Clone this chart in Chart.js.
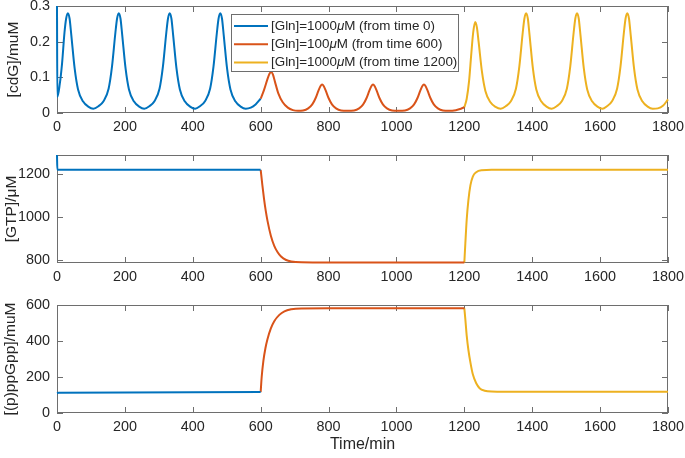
<!DOCTYPE html>
<html>
<head>
<meta charset="utf-8">
<script src="https://cdn.jsdelivr.net/npm/chart.js@4.4.1/dist/chart.umd.min.js"></script>
<style>
  html, body { margin: 0; padding: 0; background: #fff; }
  canvas { display: block; }
</style>
</head>
<body>
<canvas id="cdg" width="685" height="140"></canvas>
<canvas id="gtp" width="685" height="150"></canvas>
<canvas id="ppgpp" width="685" height="168"></canvas>
<script>
// time axis ticks (min)
const timeTicks = [0, 200, 400, 600, 800, 1000, 1200, 1400, 1600, 1800];

// [cdG] oscillations
const cdgBlueT = [0, 1, 8, 15, 22, 27, 32, 37, 42, 52, 62, 77, 92, 107, 122, 137, 152, 162, 172, 177, 182, 187, 192, 202, 212, 227, 242, 257, 272, 287, 302, 312, 322, 327, 332, 337, 342, 352, 362, 377, 392, 407, 421, 436, 451, 461, 471, 476, 481, 486, 491, 501, 511, 526, 541, 556, 571, 585, 600];
const cdgBlue = [0.3, 0.045, 0.08, 0.14, 0.225, 0.265, 0.28, 0.265, 0.22, 0.125, 0.066, 0.032, 0.018, 0.012, 0.019, 0.033, 0.068, 0.13, 0.225, 0.265, 0.28, 0.265, 0.22, 0.125, 0.066, 0.032, 0.018, 0.012, 0.019, 0.033, 0.068, 0.13, 0.225, 0.265, 0.28, 0.265, 0.22, 0.125, 0.066, 0.032, 0.018, 0.012, 0.019, 0.033, 0.068, 0.13, 0.225, 0.265, 0.28, 0.265, 0.22, 0.125, 0.066, 0.032, 0.018, 0.012, 0.015, 0.024, 0.04];
const cdgRedT = [600, 610, 620, 626, 631, 636, 642, 652, 665, 680, 695, 710, 725, 740, 752, 762, 770, 776, 781, 786, 792, 800, 810, 822, 837, 855, 875, 890, 902, 912, 920, 926, 931, 936, 942, 950, 960, 972, 987, 1005, 1025, 1040, 1052, 1062, 1070, 1076, 1081, 1086, 1092, 1100, 1110, 1122, 1137, 1155, 1175, 1190, 1200];
const cdgRed = [0.04, 0.065, 0.095, 0.11, 0.115, 0.108, 0.088, 0.055, 0.03, 0.015, 0.008, 0.006, 0.007, 0.013, 0.024, 0.042, 0.062, 0.075, 0.08, 0.075, 0.062, 0.042, 0.024, 0.013, 0.007, 0.006, 0.007, 0.013, 0.024, 0.042, 0.062, 0.075, 0.08, 0.075, 0.062, 0.042, 0.024, 0.013, 0.007, 0.006, 0.007, 0.013, 0.024, 0.042, 0.062, 0.075, 0.08, 0.075, 0.062, 0.042, 0.024, 0.013, 0.007, 0.006, 0.008, 0.012, 0.016];
const cdgYellowT = [1200, 1207, 1214, 1220, 1226, 1232, 1237, 1242, 1252, 1262, 1277, 1292, 1307, 1322, 1337, 1352, 1362, 1372, 1377, 1382, 1387, 1392, 1402, 1412, 1427, 1442, 1457, 1472, 1487, 1502, 1512, 1522, 1527, 1532, 1537, 1542, 1552, 1562, 1577, 1592, 1607, 1620, 1635, 1650, 1660, 1670, 1675, 1680, 1685, 1690, 1700, 1710, 1725, 1740, 1755, 1770, 1785, 1800];
const cdgYellow = [0.016, 0.04, 0.09, 0.16, 0.225, 0.255, 0.24, 0.2, 0.115, 0.062, 0.03, 0.017, 0.012, 0.019, 0.033, 0.068, 0.13, 0.225, 0.265, 0.28, 0.265, 0.22, 0.125, 0.066, 0.032, 0.018, 0.012, 0.019, 0.033, 0.068, 0.13, 0.225, 0.265, 0.28, 0.265, 0.22, 0.125, 0.066, 0.032, 0.018, 0.012, 0.019, 0.033, 0.068, 0.13, 0.225, 0.265, 0.28, 0.265, 0.22, 0.125, 0.066, 0.032, 0.018, 0.012, 0.013, 0.02, 0.038];
const cdgTicks = [0, 0.1, 0.2, 0.3];

// [GTP]
const gtpBlueT = [0, 1, 600];
const gtpBlue = [1290, 1222, 1221];
const gtpRedT = [600, 605, 610, 615, 620, 630, 640, 650, 660, 675, 690, 720, 800, 1200];
const gtpRed = [1221, 1150, 1085, 1030, 985, 915, 868, 838, 818, 802, 795, 791, 790, 790];
const gtpYellowT = [1200, 1203, 1207, 1212, 1218, 1225, 1235, 1250, 1280, 1800];
const gtpYellow = [790, 880, 990, 1080, 1150, 1190, 1210, 1219, 1221, 1221];
const gtpTicks = [800, 1000, 1200];

// [(p)ppGpp]
const ppBlueT = [0, 5, 600];
const ppBlue = [110, 113, 116];
const ppRedT = [600, 603, 608, 614, 620, 630, 640, 655, 670, 690, 720, 800, 1200];
const ppRed = [116, 200, 290, 360, 410, 470, 510, 545, 565, 576, 581, 582, 582];
const ppYellowT = [1200, 1203, 1207, 1212, 1218, 1225, 1235, 1245, 1260, 1280, 1320, 1800];
const ppYellow = [582, 520, 430, 350, 280, 215, 165, 138, 124, 119, 118, 118];
const ppTicks = [0, 200, 400, 600];

const legendLabels = [
  ['[Gln]=1000', 'μ', 'M (from time 0)'],
  ['[Gln]=100', 'μ', 'M (from time 600)'],
  ['[Gln]=1000', 'μ', 'M (from time 1200)'],
];

const COLORS = ['#0072BD', '#D95319', '#EDB120'];
const AXIS = '#6e6e6e';
const TEXT = '#262626';
const FONT = '"Liberation Sans", Arial, Helvetica, sans-serif';

const pts = (ts, vs) => ts.map((t, i) => ({ x: t, y: vs[i] }));

// MATLAB style box with inward ticks, drawn under the curves
const frame = {
  id: 'frame',
  beforeDatasetsDraw(chart) {
    const { ctx, chartArea: a, scales: { x, y } } = chart;
    const tl = 6;
    ctx.save();
    ctx.strokeStyle = AXIS;
    ctx.lineWidth = 1;
    ctx.beginPath();
    x.ticks.forEach((t) => {
      const px = Math.round(x.getPixelForValue(t.value)) + 0.5;
      ctx.moveTo(px, a.bottom); ctx.lineTo(px, a.bottom - tl);
      ctx.moveTo(px, a.top); ctx.lineTo(px, a.top + tl);
    });
    y.ticks.forEach((t) => {
      const py = Math.round(y.getPixelForValue(t.value)) + 0.5;
      ctx.moveTo(a.left, py); ctx.lineTo(a.left + tl, py);
      ctx.moveTo(a.right, py); ctx.lineTo(a.right - tl, py);
    });
    ctx.stroke();
    ctx.strokeRect(a.left + 0.5, a.top + 0.5, a.right - a.left - 1, a.bottom - a.top - 1);
    ctx.restore();
  },
};

const legendBox = {
  id: 'legendBox',
  afterDraw(chart) {
    const { ctx } = chart;
    const bx = 231.5, by = 14.5, bw = 227, bh = 57;
    ctx.save();
    ctx.fillStyle = '#fff';
    ctx.fillRect(bx, by, bw, bh);
    ctx.strokeStyle = AXIS;
    ctx.lineWidth = 1;
    ctx.strokeRect(bx, by, bw, bh);
    ctx.textBaseline = 'middle';
    legendLabels.forEach((parts, i) => {
      const yy = 26 + i * 18.3;
      ctx.strokeStyle = COLORS[i];
      ctx.lineWidth = 2;
      ctx.beginPath();
      ctx.moveTo(234, yy); ctx.lineTo(268, yy);
      ctx.stroke();
      ctx.fillStyle = TEXT;
      let xx = 271;
      parts.forEach((p, j) => {
        ctx.font = (j === 1 ? 'italic ' : '') + '13.4px ' + FONT;
        ctx.fillText(p, xx, yy);
        xx += ctx.measureText(p).width;
      });
    });
    ctx.restore();
  },
};

function makeChart(id, series, yMin, yMax, yTicks, yTitle, titlePad, topPad, xHeight, xTitle) {
  const plugins = [frame];
  if (id === 'cdg') plugins.push(legendBox);
  return new Chart(document.getElementById(id), {
    type: 'line',
    data: {
      datasets: series.map((s, i) => ({
        data: s,
        borderColor: COLORS[i],
        borderWidth: 2,
        pointRadius: 0,
        fill: false,
        clip: 2,
        cubicInterpolationMode: 'monotone',
      })),
    },
    options: {
      responsive: false,
      animation: false,
      events: [],
      layout: { padding: { left: 0, right: 17, top: topPad, bottom: 0 } },
      plugins: { legend: { display: false }, tooltip: { enabled: false } },
      scales: {
        x: {
          type: 'linear',
          min: 0,
          max: 1800,
          grid: { display: false, drawTicks: false },
          border: { display: false },
          afterBuildTicks: (s) => { s.ticks = timeTicks.map((v) => ({ value: v })); },
          afterFit: (s) => { s.height = xHeight; s.paddingLeft = 0; s.paddingRight = 0; },
          ticks: {
            color: TEXT, font: { family: FONT, size: 14.4 }, padding: 5,
            maxRotation: 0, autoSkip: false, callback: (v) => String(v),
          },
          title: {
            display: !!xTitle,
            text: xTitle || '',
            color: TEXT,
            font: { family: FONT, size: 16 },
            padding: { top: 4, bottom: 4 },
          },
        },
        y: {
          min: yMin,
          max: yMax,
          grid: { display: false, drawTicks: false },
          border: { display: false },
          afterBuildTicks: (s) => { s.ticks = yTicks.map((v) => ({ value: v })); },
          afterFit: (s) => { s.width = 57; s.paddingTop = 0; s.paddingBottom = 0; },
          ticks: { color: TEXT, font: { family: FONT, size: 14.4 }, padding: 7, callback: (v) => String(v) },
          title: {
            display: true,
            text: yTitle,
            color: TEXT,
            font: { family: FONT, size: 15.5 },
            padding: { top: titlePad, bottom: titlePad },
          },
        },
      },
    },
    plugins,
  });
}

makeChart('cdg',
  [pts(cdgBlueT, cdgBlue), pts(cdgRedT, cdgRed), pts(cdgYellowT, cdgYellow)],
  0, 0.3, cdgTicks, '[cdG]/muM', 4.7, 6, 27);
makeChart('gtp',
  [pts(gtpBlueT, gtpBlue), pts(gtpRedT, gtpRed), pts(gtpYellowT, gtpYellow)],
  788, 1290, gtpTicks, '[GTP]/μM', 2.7, 15, 27);
makeChart('ppgpp',
  [pts(ppBlueT, ppBlue), pts(ppRedT, ppRed), pts(ppYellowT, ppYellow)],
  0, 600, ppTicks, '[(p)ppGpp]/muM', 1.7, 15, 45, 'Time/min');
</script>
</body>
</html>
